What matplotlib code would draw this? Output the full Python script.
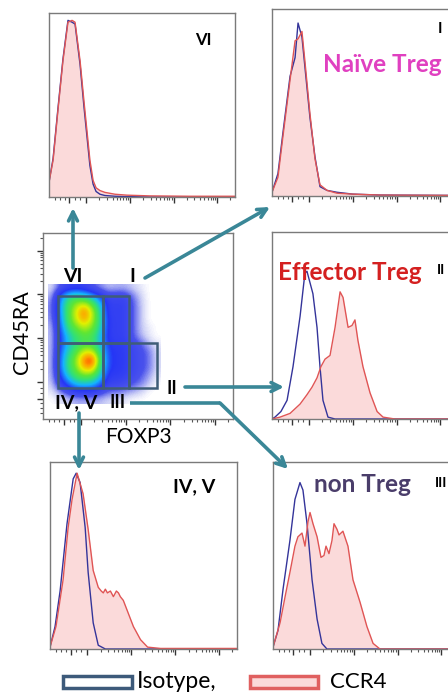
import numpy as np
import matplotlib
matplotlib.use("Agg")
import matplotlib.pyplot as plt
from matplotlib.colors import LinearSegmentedColormap
from matplotlib.patches import Rectangle

plt.rcParams['font.family'] = ['Lato', 'DejaVu Sans']

# ---- histogram data (channel 0-1000, normalised counts) ----
vi_x = [0, 22, 48, 75, 102, 124, 140, 167, 188, 204, 220, 237, 253, 274, 301, 355, 419, 543, 758, 1000]
vi_ccr4 = [0.08, 0.2, 0.47, 0.74, 0.95, 0.96, 0.95, 0.74, 0.52, 0.36, 0.2, 0.09, 0.05, 0.035, 0.025, 0.015, 0.01, 0.006, 0.004, 0.004]
vi_iso = [0.08, 0.21, 0.48, 0.75, 0.96, 0.95, 0.94, 0.72, 0.49, 0.33, 0.17, 0.07, 0.03, 0.015, 0.008, 0.004, 0.002, 0.0, 0.0, 0.0]

i_x = [0, 32, 59, 97, 124, 140, 161, 177, 204, 231, 258, 296, 349, 435, 581, 1000]
i_iso = [0.02, 0.12, 0.34, 0.64, 0.74, 0.925, 0.85, 0.69, 0.42, 0.21, 0.05, 0.03, 0.02, 0.01, 0.005, 0.003]
i_ccr4 = [0.02, 0.1, 0.32, 0.62, 0.83, 0.84, 0.88, 0.72, 0.44, 0.2, 0.06, 0.03, 0.015, 0.01, 0.005, 0.003]

ii_iso_x = [0, 16, 48, 81, 113, 151, 177, 188, 204, 220, 242, 258, 274, 301, 339, 1000]
ii_iso = [0, 0.01, 0.04, 0.1, 0.28, 0.55, 0.78, 0.79, 0.73, 0.67, 0.49, 0.28, 0.1, 0.01, 0, 0]
ii_ccr4_x = [0, 43, 97, 151, 188, 215, 242, 263, 285, 312, 339, 366, 382, 409, 430, 446, 462, 489, 527, 565, 597, 661, 1000]
ii_ccr4 = [0, 0.01, 0.03, 0.08, 0.13, 0.17, 0.22, 0.28, 0.32, 0.34, 0.49, 0.68, 0.65, 0.49, 0.5, 0.53, 0.42, 0.28, 0.14, 0.04, 0.01, 0, 0]

iv_iso_x = [0, 27, 54, 91, 124, 140, 161, 188, 204, 231, 258, 296, 1000]
iv_iso = [0.01, 0.12, 0.31, 0.67, 0.91, 0.94, 0.89, 0.65, 0.41, 0.14, 0.02, 0, 0]
iv_ccr4_x = [0, 32, 70, 97, 118, 145, 177, 204, 231, 258, 274, 285, 296, 307, 323, 339, 355, 366, 376, 392, 419, 446, 484, 522, 591, 1000]
iv_ccr4 = [0.01, 0.12, 0.37, 0.65, 0.8, 0.94, 0.83, 0.64, 0.42, 0.33, 0.31, 0.3, 0.32, 0.3, 0.31, 0.28, 0.31, 0.3, 0.28, 0.26, 0.19, 0.12, 0.05, 0.01, 0.003, 0.003]

iii_iso_x = [0, 27, 54, 91, 118, 145, 161, 183, 210, 237, 263, 290, 1000]
iii_iso = [0.01, 0.1, 0.32, 0.58, 0.8, 0.89, 0.85, 0.67, 0.37, 0.16, 0.03, 0, 0]
iii_ccr4_x = [0, 38, 65, 91, 118, 134, 156, 172, 188, 199, 215, 237, 258, 274, 285, 301, 317, 328, 344, 355, 376, 403, 430, 468, 505, 538, 575, 1000]
iii_ccr4 = [0.01, 0.14, 0.28, 0.41, 0.55, 0.6, 0.62, 0.55, 0.68, 0.73, 0.67, 0.6, 0.49, 0.5, 0.55, 0.51, 0.58, 0.67, 0.64, 0.61, 0.63, 0.55, 0.37, 0.25, 0.12, 0.03, 0, 0]

# ---- dot plot density (rows top->bottom, CD45RA high->low; cols FOXP3 low->high) ----
density = np.array([
    [0.03, 0.12, 0.18, 0.2, 0.18, 0.12, 0.08, 0.05, 0.06, 0.06, 0.04, 0.02, 0, 0],
    [0.06, 0.3, 0.45, 0.5, 0.45, 0.38, 0.25, 0.16, 0.17, 0.17, 0.1, 0.04, 0, 0],
    [0.08, 0.35, 0.55, 0.65, 0.72, 0.58, 0.4, 0.2, 0.2, 0.2, 0.12, 0.05, 0, 0],
    [0.08, 0.35, 0.55, 0.72, 0.88, 0.7, 0.45, 0.2, 0.2, 0.2, 0.12, 0.05, 0, 0],
    [0.07, 0.32, 0.55, 0.7, 0.82, 0.68, 0.48, 0.22, 0.2, 0.2, 0.12, 0.05, 0, 0],
    [0.05, 0.28, 0.5, 0.6, 0.68, 0.62, 0.45, 0.22, 0.2, 0.2, 0.12, 0.05, 0.02, 0],
    [0.05, 0.25, 0.42, 0.52, 0.58, 0.55, 0.4, 0.22, 0.2, 0.2, 0.12, 0.06, 0.02, 0],
    [0.05, 0.25, 0.4, 0.5, 0.55, 0.55, 0.4, 0.24, 0.22, 0.22, 0.16, 0.12, 0.06, 0.02],
    [0.05, 0.28, 0.45, 0.58, 0.72, 0.72, 0.48, 0.26, 0.24, 0.22, 0.17, 0.14, 0.1, 0.03],
    [0.05, 0.3, 0.5, 0.65, 0.88, 0.95, 0.55, 0.26, 0.24, 0.22, 0.17, 0.14, 0.1, 0.03],
    [0.05, 0.3, 0.5, 0.62, 0.8, 0.8, 0.5, 0.26, 0.24, 0.22, 0.17, 0.14, 0.1, 0.03],
    [0.05, 0.25, 0.42, 0.55, 0.6, 0.58, 0.42, 0.22, 0.22, 0.2, 0.16, 0.12, 0.07, 0.02],
    [0.04, 0.18, 0.3, 0.4, 0.42, 0.4, 0.3, 0.18, 0.18, 0.15, 0.12, 0.09, 0.05, 0],
    [0.02, 0.08, 0.14, 0.2, 0.2, 0.2, 0.15, 0.1, 0.1, 0.08, 0.06, 0.04, 0, 0],
    [0, 0.02, 0.04, 0.06, 0.06, 0.06, 0.05, 0.03, 0.03, 0.02, 0, 0, 0, 0],
])
density_extent = (26, 616, 81, 726)

# gates: name -> (x0, x1, y0, y1) in channels
gates = {
    "VI": (79, 316, 409, 661),
    "I": (316, 453, 409, 661),
    "IV, V": (79, 316, 167, 409),
    "III": (316, 453, 167, 409),
    "II": (453, 600, 167, 409),
}

W, H = 448, 692
BLUE = "#34349a"
RED = "#e05555"
PINK = "#fbdada"
TEAL = "#3a8797"
FRAME = "#7a7a7a"

fig = plt.figure(figsize=(W / 100, H / 100), dpi=100)


def px_axes(left, top, w, h):
    return fig.add_axes([left / W, 1 - (top + h) / H, w / W, h / H])


def log_ticks():
    major = [110] + [200 + 235 * k for k in range(4)]
    minor = [30, 60, 85, 140, 165]
    for k in range(4):
        for m in range(2, 10):
            minor.append(200 + 235 * k + 235 * np.log10(m))
    return major, [m for m in minor if m < 1000]


def style_frame(ax, yticks=False):
    for s in ax.spines.values():
        s.set_color(FRAME)
        s.set_linewidth(1.0)
    major, minor = log_ticks()
    ax.set_xticks(major)
    ax.set_xticks(minor, minor=True)
    ax.tick_params(axis='x', which='major', length=4, width=1, color="#333333", labelbottom=False)
    ax.tick_params(axis='x', which='minor', length=2.5, width=0.8, color="#555555")
    if yticks:
        ax.set_yticks(major)
        ax.set_yticks(minor, minor=True)
        ax.tick_params(axis='y', which='major', length=4, width=1, color="#333333", labelleft=False)
        ax.tick_params(axis='y', which='minor', length=2.5, width=0.8, color="#555555")
    else:
        ax.set_yticks([])


def histo(ax, x_iso, iso, x_ccr4, ccr4):
    ax.fill_between(x_ccr4, ccr4, color=PINK, lw=0)
    ax.plot(x_iso, iso, color=BLUE, lw=1.0)
    ax.plot(x_ccr4, ccr4, color=RED, lw=1.0)
    ax.set_xlim(0, 1000)
    ax.set_ylim(0, 1.0)
    style_frame(ax)


ax_vi = px_axes(49, 13, 186, 184)
histo(ax_vi, vi_x, vi_iso, vi_x, vi_ccr4)
ax_i = px_axes(272, 9, 186, 187)
histo(ax_i, i_x, i_iso, i_x, i_ccr4)
ax_ii = px_axes(272, 232, 186, 187)
histo(ax_ii, ii_iso_x, ii_iso, ii_ccr4_x, ii_ccr4)
ax_iv = px_axes(50, 462, 187, 187)
histo(ax_iv, iv_iso_x, iv_iso, iv_ccr4_x, iv_ccr4)
ax_iii = px_axes(273, 462, 186, 187)
histo(ax_iii, iii_iso_x, iii_iso, iii_ccr4_x, iii_ccr4)

# dot plot
cmap = LinearSegmentedColormap.from_list("flow", [
    (0.0, "#ffffff"), (0.04, "#cdd0f6"), (0.12, "#4a52ec"), (0.25, "#2636f6"),
    (0.38, "#14b4ff"), (0.5, "#30e07a"), (0.6, "#5ee634"), (0.72, "#e2f000"),
    (0.82, "#ffa000"), (0.92, "#ff3000"), (1.0, "#d00000")])
ax_dot = px_axes(43, 233, 190, 186)
ax_dot.imshow(density, cmap=cmap, vmin=0, vmax=1, extent=density_extent,
              origin='upper', interpolation='bicubic', aspect='auto')
for name, (x0, x1, y0, y1) in gates.items():
    ax_dot.add_patch(Rectangle((x0, y0), x1 - x0, y1 - y0, fill=False,
                               ec="#3f5d78", lw=1.8))
ax_dot.set_xlim(0, 1000)
ax_dot.set_ylim(0, 1000)
style_frame(ax_dot, yticks=True)

# overlay in pixel coordinates for arrows and text
ov = fig.add_axes([0, 0, 1, 1], zorder=10)
ov.set_xlim(0, W)
ov.set_ylim(H, 0)
ov.axis("off")
ov.patch.set_alpha(0)

arrow = dict(arrowstyle="->", color=TEAL, lw=2.6, mutation_scale=16, shrinkA=0, shrinkB=0)
ov.annotate("", xy=(73, 208), xytext=(73, 268), arrowprops=arrow)
ov.annotate("", xy=(270, 207), xytext=(145, 278), arrowprops=arrow)
ov.annotate("", xy=(284, 387), xytext=(185, 387), arrowprops=arrow)
ov.plot([130, 220], [403, 403], color=TEAL, lw=2.6, solid_capstyle='butt')
ov.annotate("", xy=(288, 469), xytext=(220, 403), arrowprops=arrow)
ov.annotate("", xy=(79, 470), xytext=(79, 413), arrowprops=arrow)

bold = dict(fontweight="bold", ha="center", va="center")
# gate labels on dot plot
ov.text(73, 277, "VI", fontsize=14, **bold)
ov.text(132, 277, "I", fontsize=14, **bold)
ov.text(172, 388, "II", fontsize=13, **bold)
ov.text(118, 403, "III", fontsize=13, **bold)
ov.text(76, 403, "IV, V", fontsize=14, **bold)
ov.text(22, 332, "CD45RA", fontsize=15.5, rotation=90, ha="center", va="center")
ov.text(138, 437, "FOXP3", fontsize=15, ha="center", va="center")

# panel labels
ov.text(203, 40, "VI", fontsize=12, **bold)
ov.text(440, 29, "I", fontsize=11, **bold)
ov.text(382, 64, "Naïve Treg", fontsize=17.5, color="#e040c0", **bold)
ov.text(350, 272, "Effector Treg", fontsize=17.5, color="#d42020", **bold)
ov.text(441, 270, "II", fontsize=10, **bold)
ov.text(194, 487, "IV, V", fontsize=14, **bold)
ov.text(362, 485, "non Treg", fontsize=17.5, color="#4a3d6a", **bold)
ov.text(441, 483, "III", fontsize=10, **bold)

# legend
ov.add_patch(Rectangle((63, 676), 69, 12, fill=False, ec="#3d5a7a", lw=2.5))
ov.text(137, 682, "Isotype,", fontsize=16.5, ha="left", va="center")
ov.add_patch(Rectangle((250, 676), 68, 12, fc=PINK, ec="#e06060", lw=2.5))
ov.text(330, 682, "CCR4", fontsize=16, ha="left", va="center")

fig.savefig("out.png", dpi=100)
